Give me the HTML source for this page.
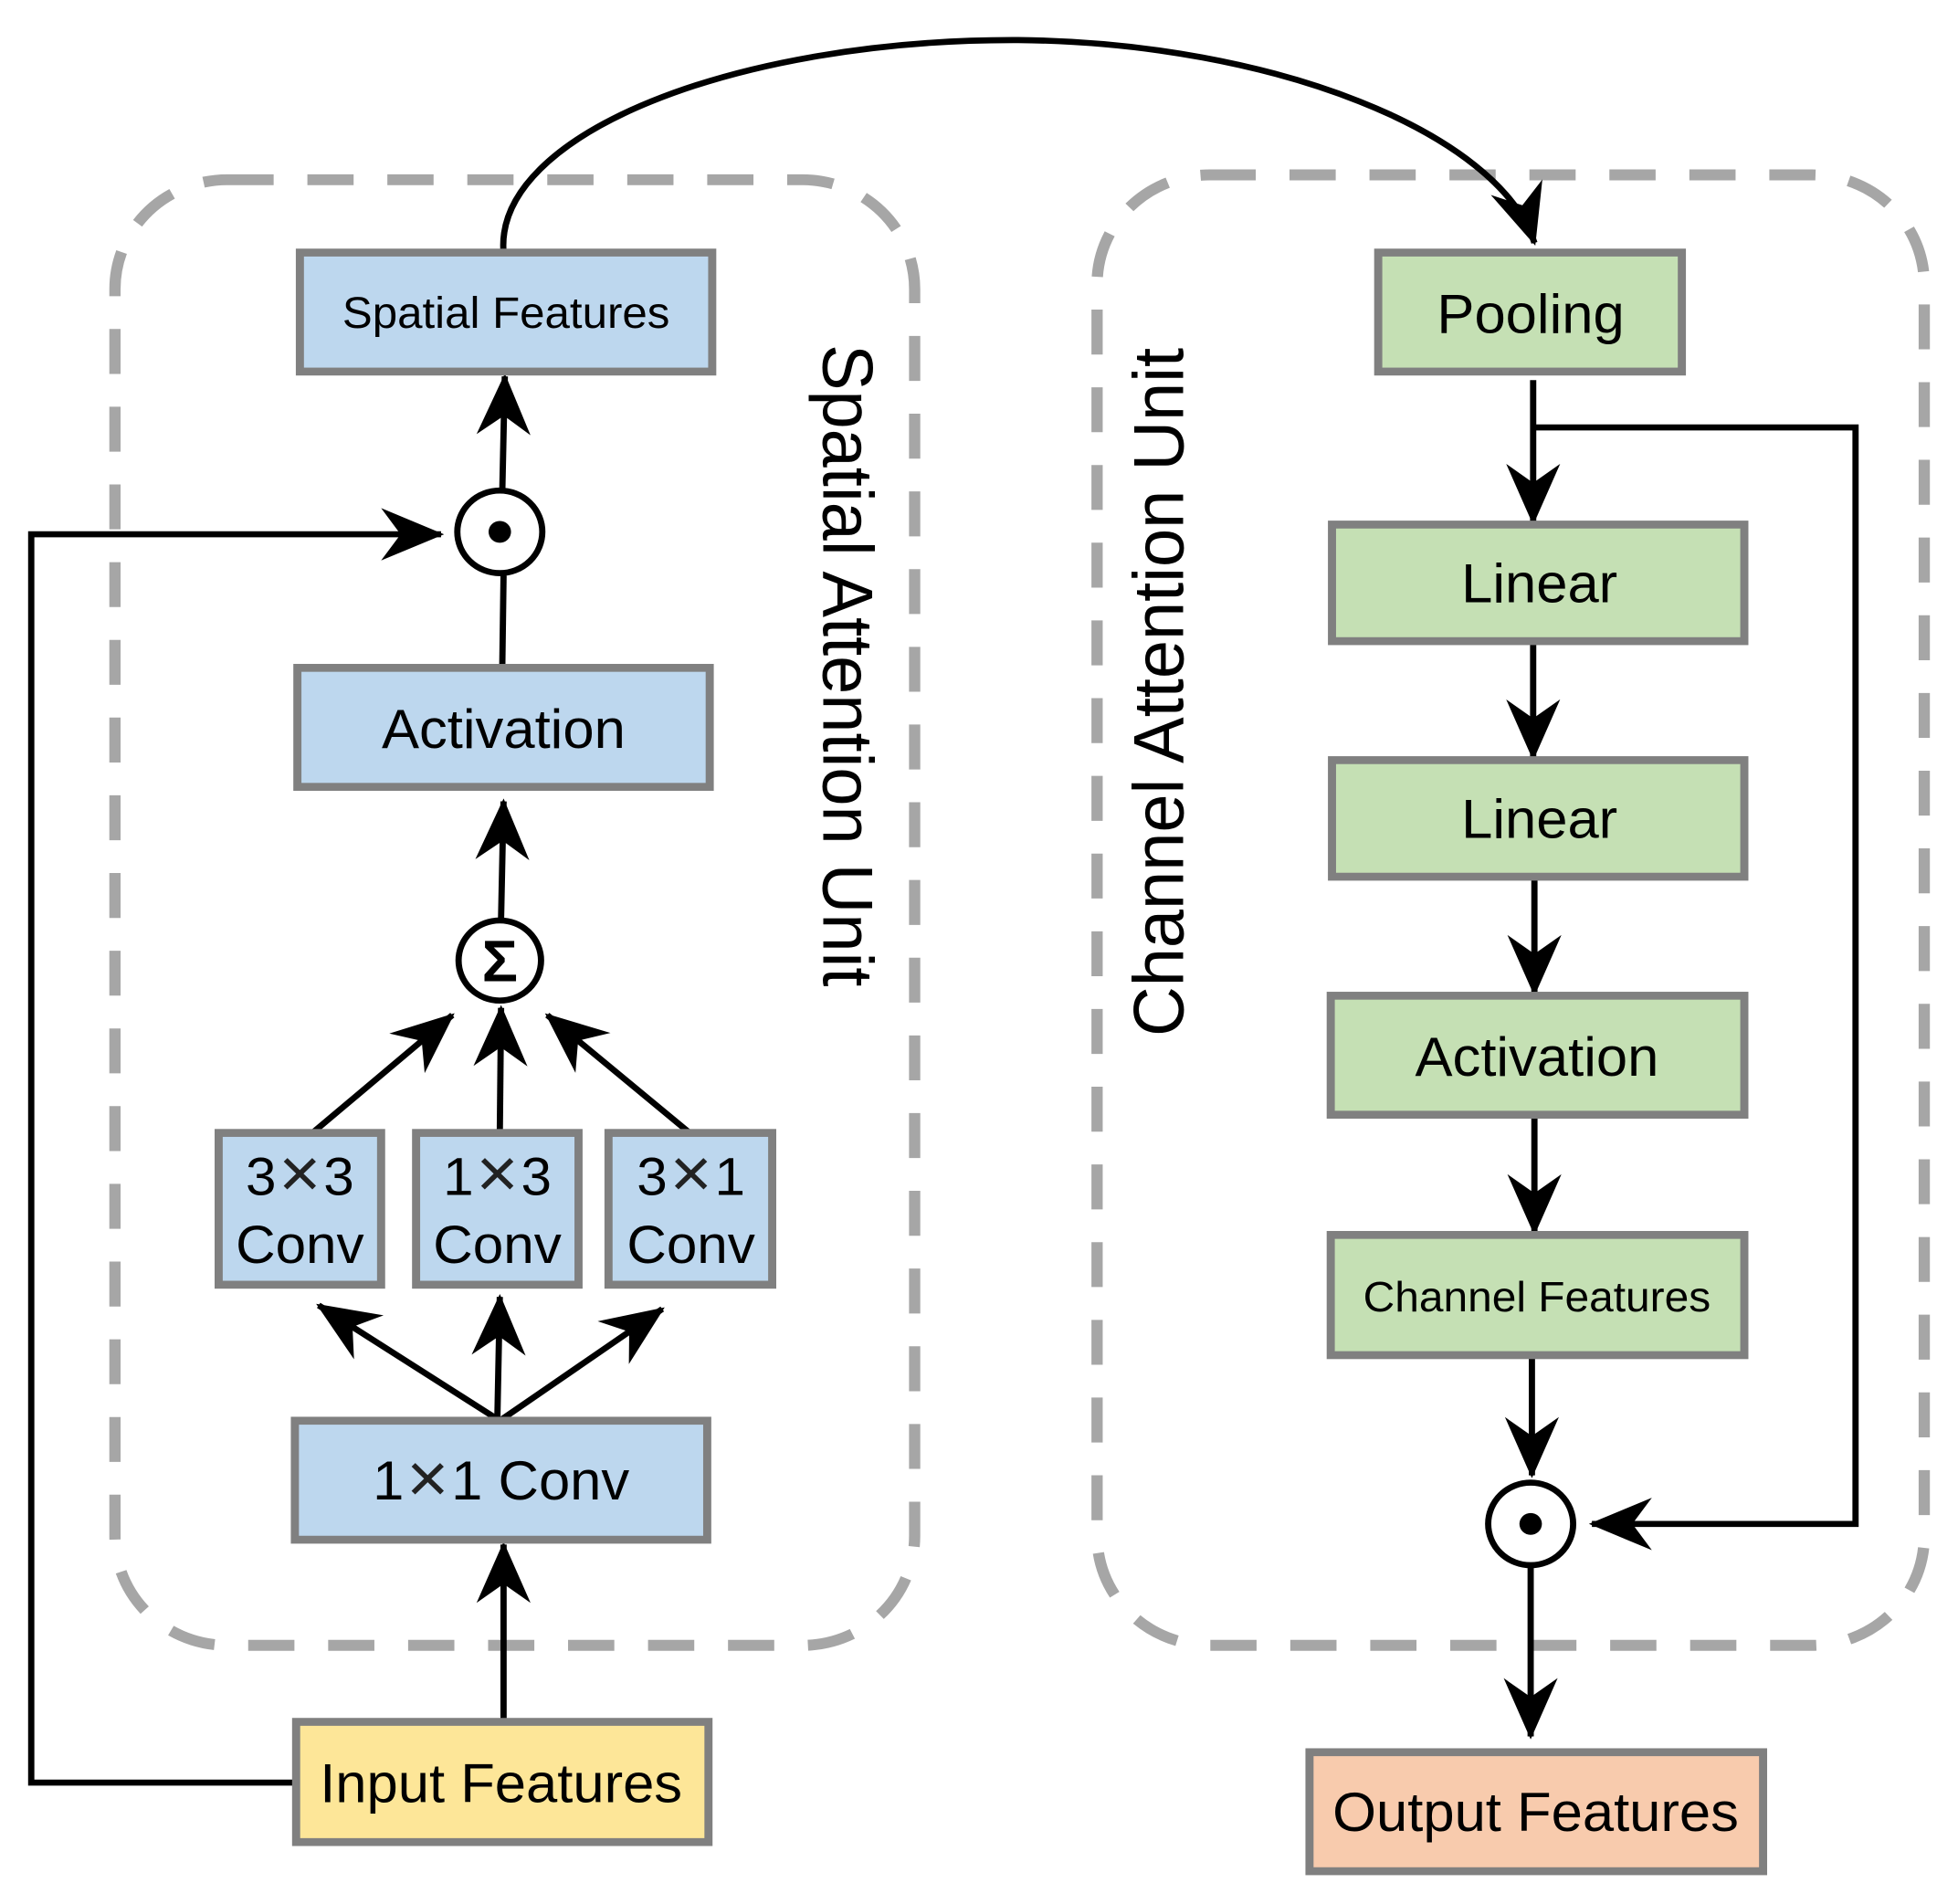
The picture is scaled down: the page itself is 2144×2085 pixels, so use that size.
<!DOCTYPE html>
<html><head><meta charset="utf-8"><style>
html,body{margin:0;padding:0;background:#fff;}
svg{display:block;}
text{font-family:"Liberation Sans",Arial,sans-serif;fill:#000;}
</style></head><body>
<svg width="2144" height="2085" viewBox="0 0 1567 1568" preserveAspectRatio="none" xmlns="http://www.w3.org/2000/svg">
<defs>
<marker id="ah" markerUnits="userSpaceOnUse" markerWidth="60" markerHeight="60" viewBox="-45 -25 50 50" refX="0" refY="0" orient="auto">
<path d="M2,0 L-40,-18 L-27,0 L-40,18 Z" fill="#000"/>
</marker>
</defs>
<rect x="92" y="148" width="640" height="1207" rx="90" ry="90" fill="none" stroke="#a6a6a6" stroke-width="9" stroke-dasharray="37,27"/>
<rect x="878" y="144" width="662" height="1211" rx="90" ry="90" fill="none" stroke="#a6a6a6" stroke-width="9" stroke-dasharray="37,27"/>

<g stroke="#000" stroke-width="5" fill="none">
<path d="M403,208 C395,110 590,32 815,33 C1020,35 1200,110 1228,200" marker-end="url(#ah)"/>
<line x1="402" y1="404" x2="404" y2="310" marker-end="url(#ah)"/>
<line x1="402" y1="548" x2="403" y2="474"/>
<line x1="401" y1="757" x2="403" y2="660" marker-end="url(#ah)"/>
<line x1="250" y1="933" x2="362" y2="836" marker-end="url(#ah)"/>
<line x1="400" y1="933" x2="401" y2="830" marker-end="url(#ah)"/>
<line x1="552" y1="933" x2="438" y2="836" marker-end="url(#ah)"/>
<line x1="400" y1="1170" x2="255" y2="1075" marker-end="url(#ah)"/>
<line x1="398" y1="1170" x2="400" y2="1068" marker-end="url(#ah)"/>
<line x1="400" y1="1170" x2="530" y2="1078" marker-end="url(#ah)"/>
<line x1="403" y1="1418" x2="403" y2="1272" marker-end="url(#ah)"/>
<polyline points="237,1468 25,1468 25,440 353,440" marker-end="url(#ah)"/>
<line x1="1227" y1="313" x2="1227" y2="430" marker-end="url(#ah)"/>
<polyline points="1227,352 1485,352 1485,1255 1274,1255" marker-end="url(#ah)"/>
<line x1="1227" y1="528" x2="1227" y2="624" marker-end="url(#ah)"/>
<line x1="1228" y1="722" x2="1228" y2="818" marker-end="url(#ah)"/>
<line x1="1228" y1="918" x2="1228" y2="1015" marker-end="url(#ah)"/>
<line x1="1226" y1="1116" x2="1226" y2="1215" marker-end="url(#ah)"/>
<line x1="1225" y1="1290" x2="1225" y2="1430" marker-end="url(#ah)"/>
</g>

<g stroke="#808080" stroke-width="6.5">
<rect x="240" y="208" width="330" height="98" fill="#bdd7ee"/>
<rect x="238" y="550" width="330" height="98" fill="#bdd7ee"/>
<rect x="175" y="933" width="130" height="125" fill="#bdd7ee"/>
<rect x="333" y="933" width="130" height="125" fill="#bdd7ee"/>
<rect x="487" y="933" width="131" height="125" fill="#bdd7ee"/>
<rect x="236" y="1170" width="330" height="98" fill="#bdd7ee"/>
<rect x="237" y="1418" width="330" height="99" fill="#fde698"/>
<rect x="1103" y="208" width="243" height="98" fill="#c5e0b4"/>
<rect x="1066" y="432" width="330" height="96" fill="#c5e0b4"/>
<rect x="1066" y="626" width="330" height="96" fill="#c5e0b4"/>
<rect x="1065" y="820" width="331" height="98" fill="#c5e0b4"/>
<rect x="1065" y="1017" width="331" height="99" fill="#c5e0b4"/>
<rect x="1048" y="1443" width="363" height="98" fill="#f8cbad"/>
</g>

<g stroke="#000" stroke-width="5" fill="#fff">
<circle cx="400" cy="438" r="34"/>
<circle cx="400" cy="791" r="33"/>
<circle cx="1225" cy="1255" r="34"/>
</g>
<circle cx="400" cy="438" r="9" fill="#000"/>
<circle cx="1225" cy="1255" r="9" fill="#000"/>
<text x="400" y="808" font-size="48" font-weight="bold" text-anchor="middle">Σ</text>

<g text-anchor="middle">
<text x="405" y="270" font-size="36">Spatial Features</text>
<text x="403" y="616" font-size="45">Activation</text>
<text x="240" y="984" font-size="44">3<tspan font-size="58" dx="2" dy="2" style="font-weight:100" fill="#222">×</tspan><tspan dx="2" dy="-2">3</tspan></text>
<text x="240" y="1040" font-size="44">Conv</text>
<text x="398" y="984" font-size="44">1<tspan font-size="58" dx="2" dy="2" fill="#222">×</tspan><tspan dx="2" dy="-2">3</tspan></text>
<text x="398" y="1040" font-size="44">Conv</text>
<text x="553" y="984" font-size="44">3<tspan font-size="58" dx="2" dy="2" fill="#222">×</tspan><tspan dx="2" dy="-2">1</tspan></text>
<text x="553" y="1040" font-size="44">Conv</text>
<text x="401" y="1235" font-size="45">1<tspan font-size="58" dx="2" dy="2" fill="#222">×</tspan><tspan dx="2" dy="-2">1 Conv</tspan></text>
<text x="401" y="1484" font-size="45">Input Features</text>
<text x="1225" y="274" font-size="45">Pooling</text>
<text x="1232" y="496" font-size="45">Linear</text>
<text x="1232" y="690" font-size="45">Linear</text>
<text x="1230" y="886" font-size="45">Activation</text>
<text x="1230" y="1080" font-size="35">Channel Features</text>
<text x="1229" y="1508" font-size="45">Output Features</text>
<text transform="translate(659,548) rotate(90)" font-size="57">Spatial Attention Unit</text>
<text transform="translate(947,570) rotate(-90)" font-size="57">Channel Attention Unit</text>
</g>
</svg>
</body></html>
